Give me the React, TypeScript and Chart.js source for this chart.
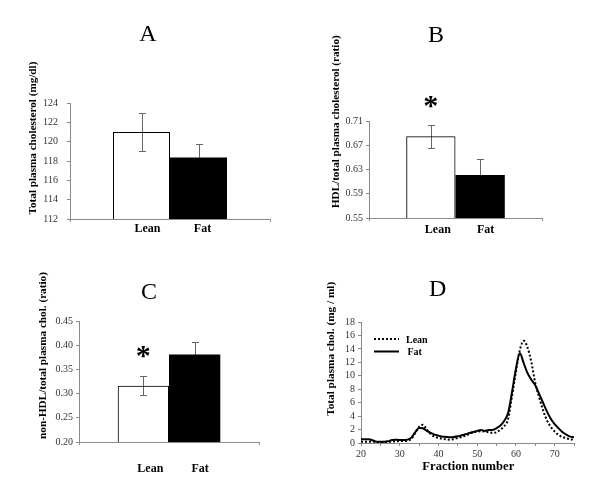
import React, { useEffect, useRef } from 'react';
import { Chart, registerables } from 'chart.js';

Chart.register(...registerables);

const FONT = '"Liberation Serif", "Times New Roman", serif';
const AXIS = '#8a8a8a';
const TICK_TEXT = '#333';

// ---- data ----
const groups = ['Lean', 'Fat'];

const totalChol = [121.0, 118.35];
const totalCholErr = [2.0, 1.45];

const hdlRatio = [0.685, 0.621];
const hdlRatioErr = [0.019, 0.026];

const nonHdlRatio = [0.316, 0.381];
const nonHdlRatioErr = [0.0195, 0.025];

const fractions = [
  20, 21, 22, 23, 24, 25, 26, 27, 28, 29, 30, 31, 32, 33, 34, 35, 36, 37, 38, 39,
  40, 41, 42, 43, 44, 45, 46, 47, 48, 49, 50, 51, 52, 53, 54, 55, 56, 57, 58, 59,
  60, 61, 62, 63, 64, 65, 66, 67, 68, 69, 70, 71, 72, 73, 74, 75,
];
const leanProfile = [
  0.2, 0.2, 0.2, 0.2, 0.15, 0.15, 0.15, 0.2, 0.2, 0.25, 0.3, 0.3, 0.35, 0.6, 1.5, 2.4, 2.7, 2.0, 1.3, 0.95,
  0.75, 0.65, 0.55, 0.5, 0.6, 0.75, 0.9, 1.1, 1.35, 1.6, 1.7, 1.75, 1.7, 1.6, 1.5, 1.6, 2.0, 2.5, 3.6, 7.0,
  10.6, 13.8, 15.2, 14.2, 12.0, 8.9, 6.8, 4.9, 3.4, 2.4, 1.7, 1.2, 0.9, 0.7, 0.55, 0.5,
];
const fatProfile = [
  0.55, 0.55, 0.55, 0.4, 0.2, 0.2, 0.2, 0.25, 0.45, 0.5, 0.45, 0.45, 0.5, 0.8, 1.6, 2.25, 2.2, 1.8, 1.5, 1.25,
  1.1, 0.95, 0.9, 0.85, 0.9, 1.0, 1.15, 1.3, 1.5, 1.65, 1.8, 1.95, 1.8, 1.95, 1.95, 2.2, 2.6, 3.3, 4.5, 7.6,
  11.0, 13.4, 11.9, 10.4, 9.4, 8.6, 7.3, 6.0, 4.7, 3.6, 2.8, 2.2, 1.65, 1.25, 0.95, 0.85,
];

// ---- helpers ----
function fontStr(size: number, bold: boolean) {
  return `${bold ? 'bold ' : ''}${size}px ${FONT}`;
}

function fitSize(ctx: CanvasRenderingContext2D, text: string, bold: boolean, target: number) {
  ctx.save();
  ctx.font = fontStr(100, bold);
  const w = ctx.measureText(text).width;
  ctx.restore();
  return (100 * target) / w;
}

function drawInk(
  ctx: CanvasRenderingContext2D,
  text: string,
  x: number,
  y: number,
  font: string,
  align: CanvasTextAlign = 'center',
  rotate = false,
  color = '#000'
) {
  ctx.save();
  ctx.translate(x, y);
  if (rotate) ctx.rotate(-Math.PI / 2);
  ctx.font = font;
  ctx.fillStyle = color;
  ctx.textAlign = align;
  ctx.textBaseline = 'alphabetic';
  const m = ctx.measureText(text);
  const asc = m.actualBoundingBoxAscent;
  const desc = m.actualBoundingBoxDescent;
  ctx.fillText(text, 0, (asc - desc) / 2);
  ctx.restore();
}

type OverlayOpts = {
  title: string;
  tx: number;
  ty: number;
  yTitle: string;
  ytx: number;
  yty: number;
  ytLen: number;
  catY?: number;
  catDx?: number[];
  errors?: number[];
  starY?: number;
  xTitle?: string;
  xtx?: number;
  xty?: number;
  xtLen?: number;
  legend?: { x1: number; x2: number; textX: number[]; ys: number[] };
};

function makeOverlay(o: OverlayOpts) {
  return {
    id: 'overlay',
    beforeDatasetsDraw(chart: any) {
      if (!o.errors) return;
      const ctx = chart.ctx as CanvasRenderingContext2D;
      const yScale = chart.scales.y;
      ctx.save();
      ctx.strokeStyle = '#666';
      ctx.lineWidth = 1;
      chart.data.datasets.forEach((ds: any, i: number) => {
        const bar = chart.getDatasetMeta(i).data[0];
        const v = ds.data[0];
        const e = o.errors![i];
        const x = Math.round(bar.x) + 0.5;
        const yt = Math.round(yScale.getPixelForValue(v + e)) + 0.5;
        const yb = Math.round(yScale.getPixelForValue(v - e)) + 0.5;
        ctx.beginPath();
        ctx.moveTo(x, yt);
        ctx.lineTo(x, yb);
        ctx.moveTo(x - 3.5, yt);
        ctx.lineTo(x + 3.5, yt);
        ctx.moveTo(x - 3.5, yb);
        ctx.lineTo(x + 3.5, yb);
        ctx.stroke();
      });
      ctx.restore();
    },
    afterDraw(chart: any) {
      const ctx = chart.ctx as CanvasRenderingContext2D;
      drawInk(ctx, o.title, o.tx, o.ty, fontStr(24, false));
      const ys = fitSize(ctx, o.yTitle, true, o.ytLen);
      drawInk(ctx, o.yTitle, o.ytx, o.yty, fontStr(ys, true), 'center', true);
      if (o.catY !== undefined) {
        chart.data.datasets.forEach((ds: any, i: number) => {
          const bar = chart.getDatasetMeta(i).data[0];
          drawInk(ctx, ds.label, bar.x + (o.catDx ? o.catDx[i] : 0), o.catY!, fontStr(12, true));
        });
      }
      if (o.starY !== undefined) {
        const bar = chart.getDatasetMeta(0).data[0];
        drawInk(ctx, '*', bar.x, o.starY, fontStr(30, true));
      }
      if (o.xTitle) {
        const xs = fitSize(ctx, o.xTitle, true, o.xtLen!);
        drawInk(ctx, o.xTitle, o.xtx!, o.xty!, fontStr(xs, true));
      }
      if (o.legend) {
        const L = o.legend;
        chart.data.datasets.forEach((ds: any, i: number) => {
          ctx.save();
          ctx.strokeStyle = ds.borderColor;
          ctx.lineWidth = ds.borderWidth;
          ctx.setLineDash(ds.borderDash || []);
          ctx.beginPath();
          ctx.moveTo(L.x1, L.ys[i]);
          ctx.lineTo(L.x2, L.ys[i]);
          ctx.stroke();
          ctx.restore();
          drawInk(ctx, ds.label, L.textX[i], L.ys[i], fontStr(10, true), 'left');
        });
      }
    },
  };
}

type BarPanel = {
  values: number[];
  errors: number[];
  min: number;
  max: number;
  step: number;
  dec: number;
  padding: { left: number; top: number; right: number; bottom: number };
  yw: number;
  xh: number;
  tickPad: number;
  overlay: OverlayOpts;
};

function barConfig(p: BarPanel): any {
  return {
    type: 'bar',
    data: {
      labels: [''],
      datasets: groups.map((g, i) => ({
        label: g,
        data: [p.values[i]],
        backgroundColor: i === 0 ? 'rgba(255,255,255,0)' : '#000',
        borderColor: '#000',
        borderWidth: i === 0 ? 1 : 0,
        categoryPercentage: 0.57,
        barPercentage: 1,
      })),
    },
    options: {
      animation: false,
      responsive: false,
      events: [],
      layout: { padding: p.padding },
      plugins: { legend: { display: false }, tooltip: { enabled: false }, title: { display: false } },
      scales: {
        x: {
          offset: true,
          grid: { display: true, drawOnChartArea: false, drawTicks: true, tickLength: 3, color: AXIS },
          border: { display: true, color: AXIS },
          ticks: { display: false },
          afterFit: (s: any) => {
            s.height = p.xh;
          },
        },
        y: {
          min: p.min,
          max: p.max,
          ticks: {
            stepSize: p.step,
            padding: p.tickPad,
            autoSkip: false,
            color: TICK_TEXT,
            font: { family: FONT, size: 10 },
            callback: (v: any) => Number(v).toFixed(p.dec),
          },
          grid: { display: true, drawOnChartArea: false, drawTicks: true, tickLength: 3, color: AXIS },
          border: { display: true, color: AXIS },
          afterFit: (s: any) => {
            s.width = p.yw;
          },
        },
      },
    },
    plugins: [makeOverlay({ ...p.overlay, errors: p.errors })],
  };
}

const panelA: BarPanel = {
  values: totalChol,
  errors: totalCholErr,
  min: 112,
  max: 124,
  step: 2,
  dec: 0,
  padding: { left: 0, top: 103, right: 30, bottom: 0 },
  yw: 70,
  xh: 30,
  tickPad: 9,
  overlay: {
    title: 'A', tx: 148, ty: 33,
    yTitle: 'Total plasma cholesterol (mg/dl)', ytx: 33, yty: 138, ytLen: 153,
    catY: 228, catDx: [6, 4],
  },
};

const panelB: BarPanel = {
  values: hdlRatio,
  errors: hdlRatioErr,
  min: 0.55,
  max: 0.71,
  step: 0.04,
  dec: 2,
  padding: { left: 0, top: 121, right: 58, bottom: 0 },
  yw: 69,
  xh: 31,
  tickPad: 3,
  overlay: {
    title: 'B', tx: 136, ty: 34,
    yTitle: 'HDL/total plasma cholesterol (ratio)', ytx: 36, yty: 121.7, ytLen: 173,
    catY: 229, catDx: [7, 5.5], starY: 101.7,
  },
};

const panelC: BarPanel = {
  values: nonHdlRatio,
  errors: nonHdlRatioErr,
  min: 0.2,
  max: 0.45,
  step: 0.05,
  dec: 2,
  padding: { left: 0, top: 72, right: 41, bottom: 0 },
  yw: 79,
  xh: 56,
  tickPad: 3,
  overlay: {
    title: 'C', tx: 149, ty: 42.7,
    yTitle: 'non-HDL/total plasma chol. (ratio)', ytx: 43.3, yty: 106.5, ytLen: 167,
    catY: 219, catDx: [7, 5.5], starY: 103.3,
  },
};

function lineConfig(): any {
  return {
    type: 'line',
    data: {
      datasets: [
        {
          label: 'Lean',
          data: fractions.map((f, i) => ({ x: f, y: leanProfile[i] })),
          borderColor: '#000',
          borderWidth: 2,
          borderDash: [2, 2],
          pointRadius: 0,
          fill: false,
          cubicInterpolationMode: 'monotone',
        },
        {
          label: 'Fat',
          data: fractions.map((f, i) => ({ x: f, y: fatProfile[i] })),
          borderColor: '#000',
          borderWidth: 2,
          pointRadius: 0,
          fill: false,
          cubicInterpolationMode: 'monotone',
        },
      ],
    },
    options: {
      animation: false,
      responsive: false,
      events: [],
      layout: { padding: { left: 0, top: 73, right: 26, bottom: 0 } },
      plugins: { legend: { display: false }, tooltip: { enabled: false }, title: { display: false } },
      scales: {
        x: {
          type: 'linear',
          min: 20,
          max: 75,
          ticks: {
            stepSize: 5,
            padding: 2,
            color: TICK_TEXT,
            font: { family: FONT, size: 10 },
            maxRotation: 0,
            autoSkip: false,
            callback: (v: any) => (Number(v) % 10 === 0 ? String(v) : ''),
          },
          grid: { display: true, drawOnChartArea: false, drawTicks: true, tickLength: 3, color: AXIS },
          border: { display: true, color: AXIS },
          afterFit: (s: any) => {
            s.height = 55;
          },
        },
        y: {
          min: 0,
          max: 18,
          ticks: {
            stepSize: 2,
            padding: 3,
            autoSkip: false,
            color: TICK_TEXT,
            font: { family: FONT, size: 10 },
          },
          grid: { display: true, drawOnChartArea: false, drawTicks: true, tickLength: 3, color: AXIS },
          border: { display: true, color: AXIS },
          afterFit: (s: any) => {
            s.width = 61;
          },
        },
      },
    },
    plugins: [
      makeOverlay({
        title: 'D', tx: 137.7, ty: 39.3,
        yTitle: 'Total plasma chol. (mg / ml)', ytx: 31.7, yty: 99.8, ytLen: 134,
        xTitle: 'Fraction number', xtx: 168.3, xty: 216.7, xtLen: 92,
        legend: { x1: 74, x2: 99, textX: [106, 107.5], ys: [90, 102.5] },
      }),
    ],
  };
}

function ChartPanel({ make, left, top }: { make: () => any; left: number; top: number }) {
  const ref = useRef<HTMLCanvasElement>(null);
  useEffect(() => {
    const chart = new Chart(ref.current as HTMLCanvasElement, make());
    return () => chart.destroy();
  }, []);
  return (
    <canvas
      ref={ref}
      width={300}
      height={249}
      style={{ position: 'absolute', left, top, width: 300, height: 249 }}
    />
  );
}

export default function App() {
  return (
    <div style={{ position: 'absolute', left: 0, top: 0, width: 600, height: 498, background: '#fff' }}>
      <ChartPanel make={() => barConfig(panelA)} left={0} top={0} />
      <ChartPanel make={() => barConfig(panelB)} left={300} top={0} />
      <ChartPanel make={() => barConfig(panelC)} left={0} top={249} />
      <ChartPanel make={lineConfig} left={300} top={249} />
    </div>
  );
}
